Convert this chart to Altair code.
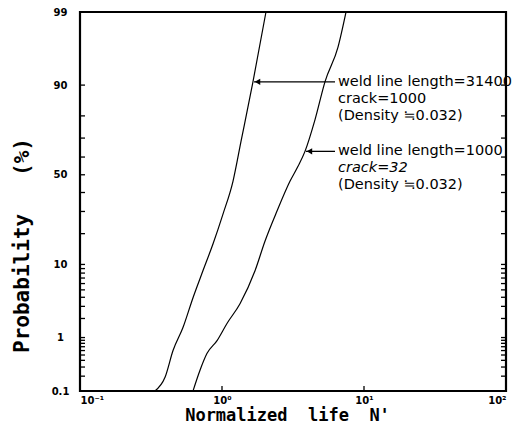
import altair as alt
import pandas as pd
from statistics import NormalDist

# ---------------- data ----------------
left_N = [0.337, 0.397, 0.452, 0.531, 0.625, 0.734, 0.865, 1.016, 1.195, 1.361, 1.652, 2.04]
left_p = [0.1, 0.19, 0.60, 1.45, 3.95, 8.5, 16.2, 28.7, 46.3, 68.3, 90.8, 99]

right_N = [0.625, 0.700, 0.783, 0.923, 1.084, 1.339, 1.708, 2.01, 2.44, 3.01, 3.43, 3.84, 4.52, 5.31, 6.56, 7.47]
right_p = [0.1, 0.26, 0.53, 0.89, 1.68, 3.27, 8.5, 17.2, 30.2, 46.3, 54.8, 63.1, 78.5, 90.8, 96.6, 99]

prob_major = [0.1, 1, 10, 50, 90, 99]
prob_major_labels = ["0.1", "1", "10", "50", "90", "99"]
prob_minor = [0.2, 0.3, 0.4, 0.5, 0.6, 0.7, 0.8, 0.9,
              2, 3, 4, 5, 6, 7, 8, 9, 20, 30, 40, 60, 70, 80]

x_ticks = [0.1, 1, 10, 100]
x_tick_labels = ["10\u207b\u00b9", "10\u2070", "10\u00b9", "10\u00b2"]

arrow_tip_N = [1.68, 3.90]
arrow_tail_N = [6.25, 6.25]
arrow_p = [90.8, 63.1]
text_N = 6.56
block_lines = [
    ["weld line length=31400", "crack=1000", "(Density \u22520.032)"],
    ["weld line length=1000", "crack=32", "(Density \u22520.032)"],
]

W, H = 426, 379
TICK = 5

# ---------------- tables ----------------
curve_df = pd.DataFrame({
    "N": left_N + right_N,
    "p": left_p + right_p,
    "series": ["long"] * len(left_N) + ["short"] * len(right_N),
})
arrow_df = pd.DataFrame({"tip": arrow_tip_N, "tail": arrow_tail_N, "p": arrow_p})
rows = []
for b, lines in enumerate(block_lines):
    for i, t in enumerate(lines):
        rows.append({"text": t, "N": text_N, "p": arrow_p[b], "line": i, "block": b, "k": b * 3 + i})
text_df = pd.DataFrame(rows)

nd = NormalDist()
zmin = nd.inv_cdf(min(prob_major) / 100)
zmax = nd.inv_cdf(max(prob_major) / 100)
z_ticks = [nd.inv_cdf(p / 100) for p in prob_major + prob_minor]
ptick_df = pd.DataFrame({"p": prob_major + prob_minor, "z": z_ticks})
xtick_df = pd.DataFrame({"N": x_ticks})

label_expr = ""
for p, lab in zip(prob_major, prob_major_labels):
    label_expr += f"abs(datum.value - ({nd.inv_cdf(p / 100):.6f})) < 0.0005 ? '{lab}' : "
label_expr += "''"

x_label_expr = (f"datum.value < 0.5 ? '{x_tick_labels[0]}' : datum.value < 5 ? '{x_tick_labels[1]}' : "
                f"datum.value < 50 ? '{x_tick_labels[2]}' : '{x_tick_labels[3]}'")

xs = alt.Scale(type="log", domain=[0.1, 100], nice=False)
ys = alt.Scale(domain=[zmin, zmax], nice=False, zero=False)
zcalc = "quantileNormal(datum.p / 100)"

x_axis = alt.Axis(
    values=x_ticks, labelExpr=x_label_expr, orient="bottom", ticks=False,
    domain=False, grid=False, labelPadding=4, labelFlush=True, labelOverlap=False,
    labelFont="DejaVu Sans", labelFontWeight="bold", labelFontSize=10, labelColor="black",
    title="Normalized\u00a0\u00a0life\u00a0\u00a0N'", titleFont="DejaVu Sans Mono",
    titleFontSize=17, titleFontWeight="bold", titleColor="black",
    titleX=207, titleY=29, titleAlign="center", titleBaseline="alphabetic",
)
y_left = alt.Axis(
    values=z_ticks, labelExpr=label_expr, orient="left", ticks=False,
    domain=False, grid=False, labelPadding=20, labelAlign="center", labelBaseline="middle",
    labelOverlap=False, labelFont="DejaVu Sans", labelFontWeight="bold", labelFontSize=10,
    labelColor="black",
    title="Probability\u00a0\u00a0\u00a0(%)", titleFont="DejaVu Sans Mono", titleFontSize=21,
    titleFontWeight="bold", titleColor="black", titleAngle=270,
    titleX=-58, titleY=233, titleAlign="center", titleBaseline="middle",
)

curves = alt.Chart(curve_df).transform_calculate(z=zcalc).mark_line(
    color="black", strokeWidth=1.2, interpolate="monotone"
).encode(
    x=alt.X("N:Q", scale=xs, axis=x_axis),
    y=alt.Y("z:Q", scale=ys, axis=y_left),
    detail="series:N",
    order="p:Q",
)

# inward tick marks on left and right frame edges, and decade ticks at the bottom
left_ticks = alt.Chart(ptick_df).mark_rule(color="black", strokeWidth=1.3).encode(
    x=alt.value(0), x2=alt.value(TICK),
    y=alt.Y("z:Q", scale=ys, axis=None),
)
right_ticks = alt.Chart(ptick_df).mark_rule(color="black", strokeWidth=1.3).encode(
    x=alt.value(W - TICK), x2=alt.value(W),
    y=alt.Y("z:Q", scale=ys, axis=None),
)
bottom_ticks = alt.Chart(xtick_df).mark_rule(color="black", strokeWidth=1.3).encode(
    x=alt.X("N:Q", scale=xs, axis=x_axis),
    y=alt.value(H - TICK), y2=alt.value(H),
)

arrows = alt.Chart(arrow_df).transform_calculate(z=zcalc).mark_rule(
    color="black", strokeWidth=1.3
).encode(
    x=alt.X("tip:Q", scale=xs, axis=x_axis),
    x2="tail:Q",
    y=alt.Y("z:Q", scale=ys, axis=None),
)

heads = alt.Chart(arrow_df).transform_calculate(z=zcalc).mark_point(
    shape="triangle-left", filled=True, color="black", size=40, opacity=1, xOffset=3.5
).encode(
    x=alt.X("tip:Q", scale=xs, axis=x_axis),
    y=alt.Y("z:Q", scale=ys, axis=None),
)

text_layers = []
for k in range(len(rows)):
    r = rows[k]
    style = "italic" if (r["block"] == 1 and r["line"] == 1) else "normal"
    text_layers.append(
        alt.Chart(text_df).transform_filter(f"datum.k == {k}").transform_calculate(z=zcalc).mark_text(
            align="left", baseline="middle", dy=17 * r["line"], font="DejaVu Sans",
            fontSize=14.5, fontStyle=style, color="black",
        ).encode(
            x=alt.X("N:Q", scale=xs, axis=x_axis),
            y=alt.Y("z:Q", scale=ys, axis=None),
            text="text:N",
        )
    )

chart = alt.layer(curves, left_ticks, right_ticks, bottom_ticks, arrows, heads, *text_layers).resolve_scale(
    y="independent"
).properties(
    width=W, height=H,
    padding={"left": 72, "top": 4, "right": 11, "bottom": 32},
    autosize=alt.AutoSizeParams(type="none"),
    background="white",
).configure_view(stroke="black", strokeWidth=2.2)

chart.save("out.html", embed_options={"renderer": "svg", "actions": False})
